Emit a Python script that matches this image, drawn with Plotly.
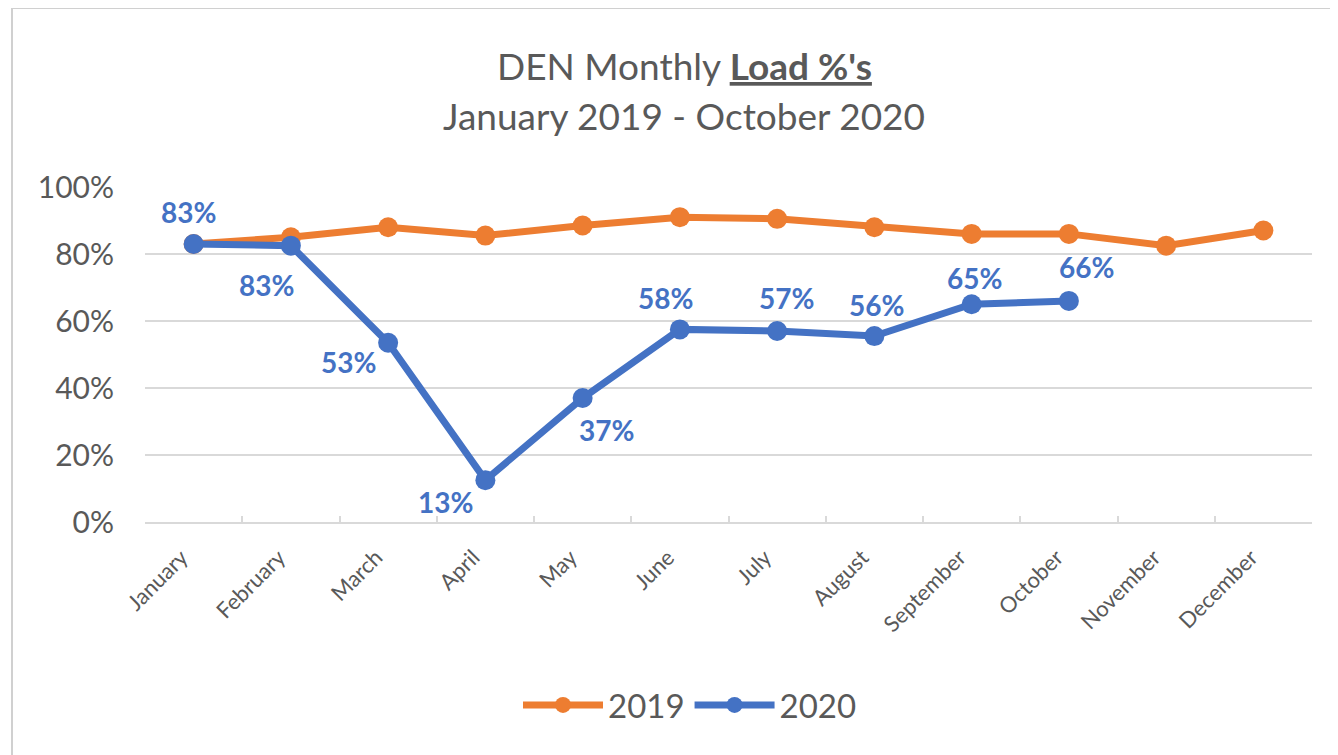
import plotly.graph_objects as go

months = ["January", "February", "March", "April", "May", "June", "July",
          "August", "September", "October", "November", "December"]
load_2019 = [83, 85, 88, 85.5, 88.5, 91, 90.5, 88, 86, 86, 82.5, 87]
load_2020 = [83, 82.5, 53.5, 12.5, 37, 57.5, 57, 55.5, 65, 66]
labels_2020 = ["83%", "83%", "53%", "13%", "37%", "58%", "57%", "56%", "65%", "66%"]

# label offsets (px) for the 2020 data labels
label_shift = [(-5, 32), (-24, -39), (-40, -19), (-40, -22), (24, -32),
               (-14, 31), (9, 33), (2, 31), (3, 26), (18, 34)]

ORANGE = "#ED7D31"
BLUE = "#4472C4"
GRAY_TXT = "#595959"
GRID = "#D9D9D9"
FONT = "Lato"

W, H = 1338, 755
OFF = 8  # page body margin
L, R, T, B = 145 - OFF, 1312 - OFF, 187 - OFF, 522 - OFF

fig = go.Figure()
fig.add_trace(go.Scatter(x=months, y=load_2019, mode="lines+markers", name="2019",
                         line=dict(color=ORANGE, width=7),
                         marker=dict(color=ORANGE, size=20)))
fig.add_trace(go.Scatter(x=months[:len(load_2020)], y=load_2020, mode="lines+markers", name="2020",
                         line=dict(color=BLUE, width=7),
                         marker=dict(color=BLUE, size=20)))

pw, ph = R - L, B - T
def px(x):  # screen pixel -> paper
    return (x - OFF - L) / pw
def py(y):
    return (B - (y - OFF)) / ph

annotations = []
for m, v, t, (dx, dy) in zip(months, load_2020, labels_2020, label_shift):
    annotations.append(dict(x=m, y=v, xref="x", yref="y", text=f"<b>{t}</b>",
                            showarrow=False, xshift=dx, yshift=dy,
                            font=dict(family=FONT, size=28, color=BLUE)))

annotations.append(dict(x=px(684), y=py(66), xref="paper", yref="paper",
                        text="DEN Monthly <b><u>Load %'s</u></b>", showarrow=False,
                        xanchor="center", yanchor="middle",
                        font=dict(family=FONT, size=37, color=GRAY_TXT)))
annotations.append(dict(x=px(684), y=py(116), xref="paper", yref="paper",
                        text="January 2019 - October 2020", showarrow=False,
                        xanchor="center", yanchor="middle",
                        font=dict(family=FONT, size=37, color=GRAY_TXT)))

shapes = [
    dict(type="line", xref="paper", yref="paper", x0=px(12), x1=px(1400), y0=py(8), y1=py(8),
         line=dict(color="#D0D0D0", width=2)),
    dict(type="line", xref="paper", yref="paper", x0=px(12), x1=px(12), y0=py(8), y1=py(800),
         line=dict(color="#D0D0D0", width=2)),
]

fig.update_layout(
    width=W, height=H,
    margin=dict(l=L, r=W - R, t=T, b=H - B, autoexpand=False),
    paper_bgcolor="white", plot_bgcolor="white",
    font=dict(family=FONT, color=GRAY_TXT),
    annotations=annotations,
    shapes=shapes,
    showlegend=True,
    legend=dict(orientation="h", xref="container", yref="container",
                x=(690 - OFF) / W, y=1 - (705 - OFF) / H, xanchor="center", yanchor="middle",
                font=dict(family=FONT, size=33, color=GRAY_TXT),
                itemwidth=80, traceorder="normal"),
)

fig.update_xaxes(
    type="category", range=[-0.5, 11.5], tickangle=-45,
    showgrid=False, showline=True, linecolor=GRID, linewidth=2,
    ticks="inside", tickson="boundaries", ticklen=6, tickcolor=GRID, tickwidth=2,
    tickfont=dict(family=FONT, size=22, color=GRAY_TXT),
    ticklabelstandoff=12, ticklabelshift=-12,
    zeroline=False,
)
fig.update_yaxes(
    range=[0, 100], dtick=20, ticksuffix="%",
    showgrid=True, gridcolor=GRID, gridwidth=2,
    showline=False, zeroline=False, ticks="",
    ticklabelstandoff=30,
    tickfont=dict(family=FONT, size=30, color=GRAY_TXT),
)

fig.write_html("out.html")
